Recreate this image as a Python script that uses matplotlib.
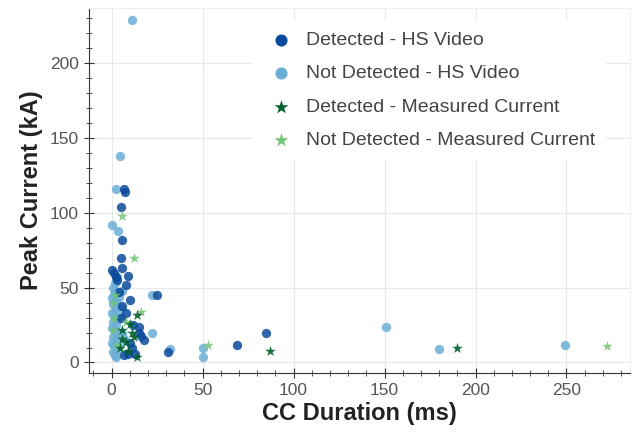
import matplotlib
matplotlib.use("Agg")
import matplotlib.pyplot as plt
from matplotlib.ticker import MultipleLocator

plt.rcParams["font.family"] = ["Liberation Sans", "DejaVu Sans"]

# detected by high-speed video
det_hs_x = [6.6, 5.0, 5.5, 5.0, 1.6, 5.5, 9.0, 8.0, 10.0, 8.0, 15.0, 15.0, 10.0,
            9.0, 31.0, 25.0, 69.0, 85.0, 3.0, 6.0, 12.0, 18.0, 11.0, 7.0, 5.0,
            13.0, 4.0, 7.5, 2.5, 16.0, 0.5]
det_hs_y = [116, 104, 82, 70, 60, 63, 58, 52, 42, 33, 24, 20, 13,
            6, 7, 45, 12, 20, 55, 38, 25, 15, 10, 5, 30,
            6, 47, 114, 57, 18, 62]

# not detected by high-speed video
nd_hs_x = [11.5, 4.4, 2.2, 0.5, 3.3, 22.5, 22.0, 32.0, 50.0, 50.0, 151.0, 180.0,
           249.0, 1.0, 2.0, 3.0, 1.5, 0.5, 2.5, 1.0, 3.0, 2.0, 0.5, 1.5, 3.5,
           1.0, 2.5, 0.5, 2.0, 3.0, 1.0, 2.5, 0.5, 1.5, 3.0, 1.0, 2.0, 2.5,
           4.0, 4.0, 4.0, 6.0, 7.0, 5.0, 6.0, 2.0, 3.0]
nd_hs_y = [229, 138, 116, 92, 88, 45, 20, 9, 4, 10, 23.5, 9,
           12, 50, 48, 47, 45, 43, 41, 39, 37, 35, 33, 31, 29,
           27, 25, 23, 21, 19, 17, 15, 13, 11, 9, 7, 5, 3.5,
           44, 30, 12, 20, 16, 36, 48, 53, 57]

# detected from measured current
det_mc_x = [14.0, 10.0, 5.5, 12.6, 8.0, 4.4, 9.0, 14.0, 87.0, 190.0, 6.0, 11.0]
det_mc_y = [32, 26, 21.5, 17, 13.5, 10, 8, 3.4, 8, 10, 16, 20]

# not detected from measured current
nd_mc_x = [6.0, 12.6, 53.0, 272.0, 16.0, 1.0, 1.5, 1.0, 2.0, 3.0, 8.0]
nd_mc_y = [98, 70, 11.5, 11, 34, 40, 30, 22, 45, 12, 27]

fig = plt.figure(figsize=(6.34, 4.44), dpi=100)
ax = fig.add_axes([0.140, 0.160, 0.854, 0.822])

ax.scatter(nd_hs_x, nd_hs_y, s=45, color="#6baed6", alpha=0.85, lw=0,
           label="Not Detected - HS Video", zorder=3)
ax.scatter(det_hs_x, det_hs_y, s=45, color="#0b4a9b", alpha=0.85, lw=0,
           label="Detected - HS Video", zorder=3)
ax.scatter(nd_mc_x, nd_mc_y, s=65, marker="*", color="#74c476", alpha=0.85,
           lw=0, label="Not Detected - Measured Current", zorder=4)
ax.scatter(det_mc_x, det_mc_y, s=65, marker="*", color="#00602b", alpha=0.9,
           lw=0, label="Detected - Measured Current", zorder=4)

ax.set_xlim(-12.5, 285)
ax.set_ylim(-7, 237)
ax.xaxis.set_major_locator(MultipleLocator(50))
ax.xaxis.set_minor_locator(MultipleLocator(10))
ax.yaxis.set_major_locator(MultipleLocator(50))
ax.yaxis.set_minor_locator(MultipleLocator(10))
ax.tick_params(which="major", direction="inout", length=7, width=0.8,
               labelsize=12.5, labelcolor="#555555", color="#333333")
ax.tick_params(which="minor", direction="inout", length=4, width=0.6,
               color="#333333")
ax.grid(True, which="major", color="#e8e8e8", lw=0.8, zorder=0)
ax.set_axisbelow(True)

for side in ("top", "right"):
    ax.spines[side].set_color("#eeeeee")
for side in ("left", "bottom"):
    ax.spines[side].set_color("#333333")
    ax.spines[side].set_linewidth(0.8)

ax.set_xlabel("CC Duration (ms)", fontsize=17, fontweight="bold",
              color="#222222", labelpad=3)
ax.set_ylabel("Peak Current (kA)", fontsize=17, fontweight="bold",
              color="#222222", labelpad=5)

handles, labels = ax.get_legend_handles_labels()
order = [1, 0, 3, 2]
leg = ax.legend([handles[i] for i in order], [labels[i] for i in order],
                loc="upper left", bbox_to_anchor=(0.284, 0.99), frameon=True,
                fontsize=14, labelspacing=0.82, handletextpad=0.25,
                borderpad=0.5, markerscale=1.3)
leg.get_frame().set_facecolor("white")
leg.get_frame().set_edgecolor("white")
leg.get_frame().set_alpha(1.0)
for t in leg.get_texts():
    t.set_color("#444444")
for h in leg.legend_handles:
    h.set_alpha(1.0)

fig.savefig("out.png", dpi=100)
